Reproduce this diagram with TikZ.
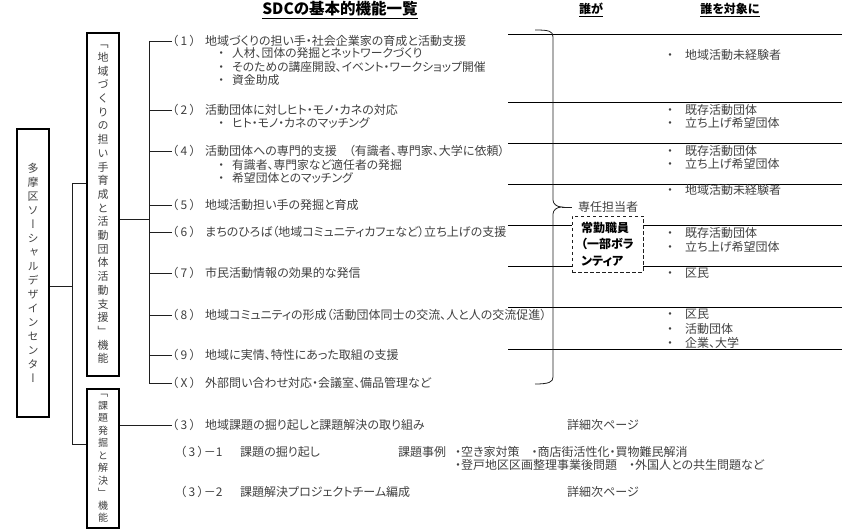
\documentclass[tikz,border=0pt]{standalone}
\usepackage{fontspec}
\newfontfamily\jp{Noto Sans CJK JP}[RawFeature=+palt]
\newfontfamily\jpv{Noto Sans CJK JP}[RawFeature=+vert]
\definecolor{txt}{gray}{0.25}
\definecolor{ln}{gray}{0.12}
\newcommand\bul[1]{\makebox[0pt][c]{・}\hspace{#1}}
\newcommand\lbl[1]{（\kern2.5pt #1\kern2.5pt）}
\tikzset{
  main/.style={anchor=west, inner sep=0pt, font=\jp\fontsize{12}{14}\selectfont, text=txt},
  sub/.style={main, font=\jp\fontsize{11.8}{14}\selectfont},
  tgt/.style={main, font=\jp\fontsize{12}{14}\selectfont},
  vbox/.style={draw=black, line width=1.6pt, inner sep=0pt, align=center, text=txt},
  conn/.style={draw=ln, line width=0.8pt},
  sepline/.style={draw=black, line width=0.8pt},
  head/.style={inner sep=0pt, font=\jp\bfseries\fontsize{12}{14}\selectfont, text=black}
}
\begin{document}
\begin{tikzpicture}[x=1pt,y=-1pt]
\useasboundingbox (0,0) rectangle (846,529);

% headings
\node[head, font=\jp\bfseries\fontsize{15.5}{18}\selectfont] (title) at (340,10) {\underline{SDCの基本的機能一覧}};
\node[head] (who) at (591,10) {\underline{誰が}};
\node[head] (whom) at (730,10) {\underline{誰を対象に}};

% vertical boxes
\node[vbox, minimum width=32, minimum height=288, font=\jpv\fontsize{11}{14}\selectfont] (b1) at (33,273)
  {多\\摩\\区\\ソ\\ー\\シ\\ャ\\ル\\デ\\ザ\\イ\\ン\\セ\\ン\\タ\\ー};
\node[vbox, minimum width=32, minimum height=343, font=\jpv\fontsize{11}{13.7}\selectfont] (b2) at (103,204.5)
  {「\\地\\域\\づ\\く\\り\\の\\担\\い\\手\\育\\成\\と\\活\\動\\団\\体\\活\\動\\支\\援\\」\\機\\能};
\node[vbox, minimum width=32, minimum height=139, font=\jpv\fontsize{10}{12.5}\selectfont] (b3) at (103,458.5)
  {「\\課\\題\\発\\掘\\と\\解\\決\\」\\機\\能};

% left connectors
\coordinate (ja) at (72,183);
\coordinate (jm) at (72,286);
\coordinate (jb) at (72,444);
\draw[conn] (b1.east |- jm) -- (jm);
\draw[conn] (b2.west |- ja) -- (ja) -- (jb) -- (b3.west |- jb);

% spine
\coordinate (sp) at (149,219);
\draw[conn] (b2.east |- sp) -- (sp);

% separators on the right
\foreach \yy in {34,102,143,184,225,266,307,349}
  \draw[sepline] (508,\yy) -- (842,\yy);

% items
\node[main] (n1) at (172,41) {\lbl{1}};
\node[main] (t1) at (205,41) {地域づくりの担い手・社会企業家の育成と活動支援};
\node[sub] (t1a) at (221,53.5) {\bul{11pt}人材、団体の発掘とネットワークづくり};
\node[sub] (t1b) at (221,67) {\bul{11pt}そのための講座開設、イベント・ワークショップ開催};
\node[sub] (t1c) at (221,80.5) {\bul{11pt}資金助成};

\node[main] (n2) at (172,110) {\lbl{2}};
\node[main] (t2) at (205,110) {活動団体に対しヒト・モノ・カネの対応};
\node[sub] (t2a) at (221,123) {\bul{11pt}ヒト・モノ・カネのマッチング};

\node[main] (n4) at (172,151) {\lbl{4}};
\node[main] (t4) at (205,151) {活動団体への専門的支援　（有識者、専門家、大学に依頼）};
\node[sub] (t4a) at (221,165) {\bul{11pt}有識者、専門家など適任者の発掘};
\node[sub] (t4b) at (221,178) {\bul{11pt}希望団体とのマッチング};

\node[main] (n5) at (172,205) {\lbl{5}};
\node[main] (t5) at (205,205) {地域活動担い手の発掘と育成};
\node[main] (n6) at (172,232) {\lbl{6}};
\node[main] (t6) at (205,232) {まちのひろば（地域コミュニティカフェなど）立ち上げの支援};
\node[main] (n7) at (172,273) {\lbl{7}};
\node[main] (t7) at (205,273) {市民活動情報の効果的な発信};
\node[main] (n8) at (172,315) {\lbl{8}};
\node[main] (t8) at (205,315) {地域コミュニティの形成（活動団体同士の交流、人と人の交流促進）};
\node[main] (n9) at (172,355) {\lbl{9}};
\node[main] (t9) at (205,355) {地域に実情、特性にあった取組の支援};
\node[main] (nX) at (172,383) {\lbl{X}};
\node[main] (tX) at (205,383) {外部問い合わせ対応・会議室、備品管理など};

\draw[conn] (sp |- n1.west) -- (sp |- nX.west);
\foreach \n in {n1,n2,n4,n5,n6,n7,n8,n9,nX}
  \draw[conn] (sp |- \n.west) -- (\n.west);

% right column targets
\node[tgt] (r1) at (670,55) {\bul{15pt}地域活動未経験者};
\node[tgt] (r2a) at (670,110) {\bul{15pt}既存活動団体};
\node[tgt] (r2b) at (670,123) {\bul{15pt}立ち上げ希望団体};
\node[tgt] (r4a) at (670,151) {\bul{15pt}既存活動団体};
\node[tgt] (r4b) at (670,164) {\bul{15pt}立ち上げ希望団体};
\node[tgt] (r5) at (670,190) {\bul{15pt}地域活動未経験者};
\node[tgt] (r6a) at (670,233) {\bul{15pt}既存活動団体};
\node[tgt] (r6b) at (670,247) {\bul{15pt}立ち上げ希望団体};
\node[tgt] (r7) at (670,273) {\bul{15pt}区民};
\node[tgt] (r8a) at (670,314) {\bul{15pt}区民};
\node[tgt] (r8b) at (670,329) {\bul{15pt}活動団体};
\node[tgt] (r8c) at (670,343) {\bul{15pt}企業、大学};

% brace
\coordinate (bt) at (535,30);
\coordinate (btip) at (562,207);
\coordinate (bb) at (535,384);
\draw[conn] (bt) .. controls (549,30) and (553,31) .. (553,37) -- (553,200)
  .. controls (553,204) and (557,207) .. (btip)
  .. controls (557,207) and (553,210) .. (553,214) -- (553,377)
  .. controls (553,382) and (549,384) .. (bb);
\node[main, font=\jp\fontsize{12}{14}\selectfont] (tanto) at (578,207) {専任担当者};
\draw[conn, shorten >=6pt] (btip) -- (tanto.west);

% staff box
\node[draw=ln, dashed, dash pattern=on 3.5pt off 2.5pt, line width=0.9pt, fill=white,
      minimum width=71, minimum height=56, align=left, inner sep=0pt,
      font=\jp\bfseries\fontsize{12}{16.5}\selectfont, text=black] (staff) at (607.5,244)
  {常勤職員\\（一部ボラ\\ンティア};

% lower section
\node[main] (n3) at (172,425) {\lbl{3}};
\draw[conn] (b3.east |- n3.west) -- (n3.west);
\node[main] (t3) at (205,425) {地域課題の掘り起しと課題解決の取り組み};
\node[main] (d1) at (567,425) {詳細次ページ};
\node[main] (n31) at (180,452) {\lbl{3}－1};
\node[main] (t31) at (240,452) {課題の掘り起し};
\node[main] (ex) at (398,452) {課題事例};
\node[main] (ex1) at (455,452) {・空き家対策　・商店街活性化・買物難民解消};
\node[main] (ex2) at (455,465) {・登戸地区区画整理事業後問題　・外国人との共生問題など};
\node[main] (n32) at (180,492) {\lbl{3}－2};
\node[main] (t32) at (240,492) {課題解決プロジェクトチーム編成};
\node[main] (d2) at (567,492) {詳細次ページ};
\end{tikzpicture}
\end{document}
